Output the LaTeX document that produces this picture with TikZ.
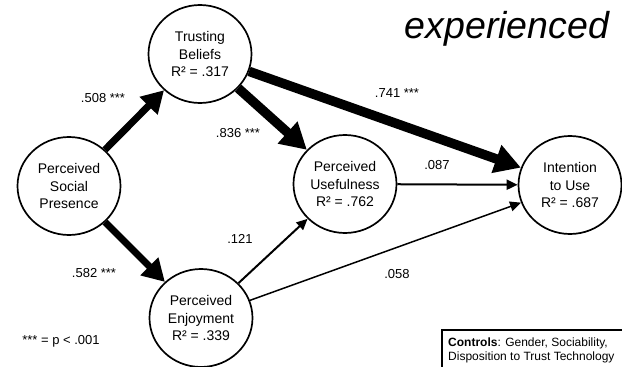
\documentclass[tikz,border=0pt]{standalone}
\usepackage{fontspec}
\setmainfont{Liberation Sans}
\usetikzlibrary{arrows.meta,shapes.geometric}
\begin{document}
\begin{tikzpicture}[x=1pt,y=-1pt,
  construct/.style={ellipse, draw, line width=1.7pt, minimum width=103pt,
    minimum height=98pt, inner sep=0pt, align=center,
    font=\fontsize{14}{17.5}\selectfont},
  coef/.style={inner sep=0pt, font=\fontsize{13}{15}\selectfont},
  strongpath/.style={line width=7pt, -{Triangle[length=22pt,width=24pt]}},
  strongerpath/.style={line width=9.5pt, -{Triangle[length=26pt,width=28pt]}},
  weakpath/.style={line width=2pt, -{Triangle[length=11pt,width=10pt]}},
  weakerpath/.style={line width=1.5pt, -{Triangle[length=11pt,width=10pt]}}]
\useasboundingbox (0,0) rectangle (622,367);
\begin{scope}
\clip (0,0) rectangle (622,367);

% latent constructs
\node[construct] (tb)  at (200,54)  {Trusting\\Beliefs\\R² = .317};
\node[construct] (psp) at (69,186)  {Perceived\\Social\\Presence};
\node[construct] (pu)  at (345,184) {Perceived\\Usefulness\\R² = .762};
\node[construct] (iu)  at (570,185) {Intention\\to Use\\R² = .687};
\node[construct] (pe)  at (201,318) {Perceived\\Enjoyment\\R² = .339};

% structural paths
\draw[strongpath]   (psp) -- (tb);
\draw[strongpath]   (psp) -- (pe);
\draw[strongerpath] (tb)  -- (pu);
\draw[strongerpath] (tb)  -- (iu);
\draw[weakpath]     (pu)  -- (iu);
\draw[weakpath]     (pe)  -- (pu);
\draw[weakerpath]   (pe)  -- (iu);

% path coefficients
\node[coef] (c1) at (103,98)  {.508 ***};
\node[coef] (c2) at (238,133) {.836 ***};
\node[coef] (c3) at (397,93)  {.741 ***};
\node[coef] (c4) at (437,165) {.087};
\node[coef] (c5) at (240,239) {.121};
\node[coef] (c6) at (94,273)  {.582 ***};
\node[coef] (c7) at (397,274) {.058};
\node[coef] (legend) at (61,341) {*** = p < .001};

% group label
\node[inner sep=0pt, font=\fontsize{37.5}{42}\selectfont\itshape] (grp) at (507,29) {experienced};

% control variables
\draw[line width=1.5pt] (442,330) rectangle (640,390);
\node[anchor=north west, inner sep=0pt, align=left,
  font=\fontsize{12}{14}\selectfont] (ctrl) at (448,338)
  {\textbf{Controls}: Gender, Sociability,\\Disposition to Trust Technology};
\end{scope}
\end{tikzpicture}
\end{document}
